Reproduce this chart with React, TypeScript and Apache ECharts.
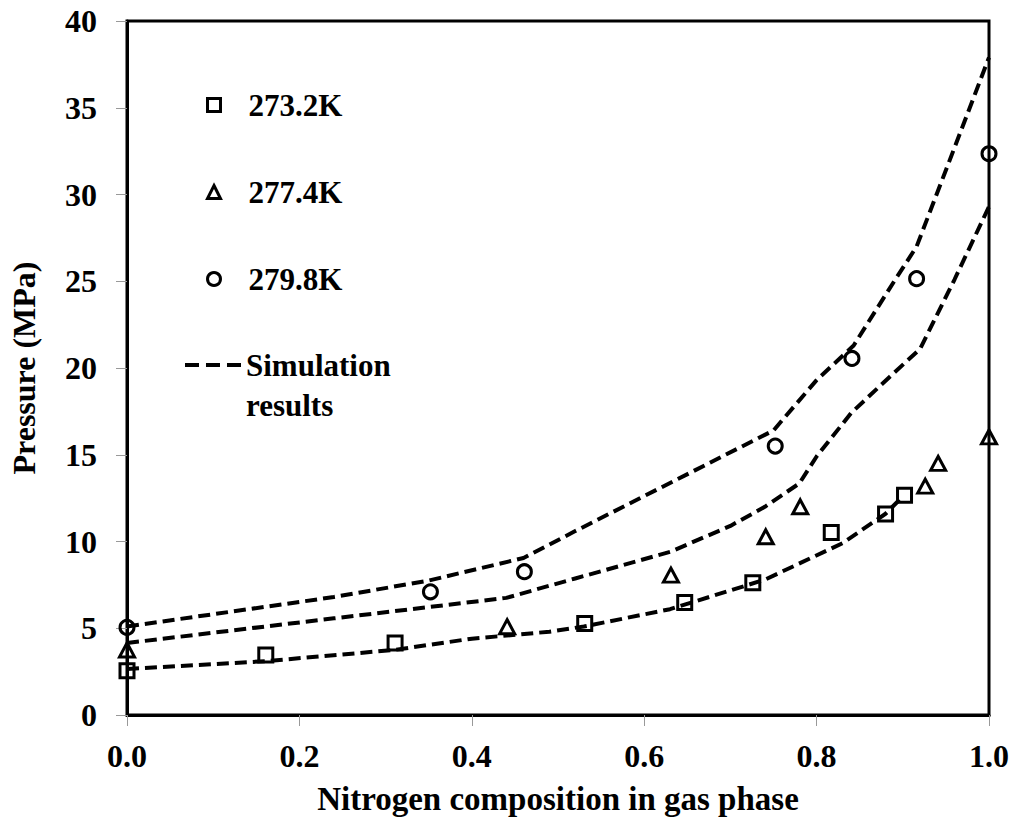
import React, { useEffect, useRef } from "react";
import * as echarts from "echarts";

// Experimental data (nitrogen mole fraction in gas phase, pressure MPa)
const n2_273 = [0, 0.161, 0.311, 0.531, 0.647, 0.726, 0.817, 0.88, 0.902];
const p_273 = [2.55, 3.46, 4.15, 5.28, 6.49, 7.62, 10.52, 11.58, 12.67];

const n2_277 = [0, 0.441, 0.631, 0.741, 0.781, 0.926, 0.941, 1.0];
const p_277 = [3.75, 5.09, 8.06, 10.27, 12.0, 13.19, 14.5, 16.03];

const n2_280 = [0, 0.352, 0.461, 0.752, 0.841, 0.916, 1.0];
const p_280 = [5.05, 7.1, 8.26, 15.5, 20.55, 25.15, 32.35];

// Simulation curves
const simX_273 = [0, 0.16, 0.31, 0.4, 0.49, 0.53, 0.63, 0.74, 0.83, 0.88, 0.9];
const simY_273 = [2.65, 3.1, 3.75, 4.4, 4.8, 5.1, 6.1, 7.8, 9.9, 11.6, 12.6];

const simX_277 = [0, 0.24, 0.44, 0.52, 0.63, 0.7, 0.74, 0.78, 0.8, 0.84, 0.885, 0.92, 0.96, 1.0];
const simY_277 = [4.15, 5.57, 6.75, 7.87, 9.4, 10.9, 12.0, 13.35, 14.9, 17.4, 19.5, 21.1, 25.1, 29.3];

const simX_280 = [0, 0.24, 0.35, 0.46, 0.52, 0.75, 0.8, 0.843, 0.89, 0.916, 0.96, 1.0];
const simY_280 = [5.1, 6.8, 7.75, 9.05, 10.6, 16.4, 19.3, 21.3, 25.0, 27.0, 32.7, 37.9];

const seriesNames = ["273.2K", "277.4K", "279.8K"];
const simName = "Simulation results";

const zip = (xs: number[], ys: number[]) => xs.map((x, i) => [x, ys[i]]);

const FONT = "Liberation Serif, Times New Roman, serif";

export default function App() {
  const ref = useRef<HTMLDivElement>(null);
  useEffect(() => {
    if (!ref.current) return;
    const chart = echarts.init(ref.current, undefined, { renderer: "svg" });
    const textStyle = { fontSize: 32, fontWeight: "bold" as const, fontFamily: FONT, color: "#000" };
    const markerStyle = { color: "transparent", borderColor: "#000", borderWidth: 3, opacity: 1 };
    const dash = { color: "#000", width: 4, type: [12, 6] as number[] };
    const simLine = (xs: number[], ys: number[]) => ({
      name: simName,
      type: "line",
      data: zip(xs, ys),
      symbol: "none",
      showSymbol: false,
      itemStyle: { color: "#000" },
      lineStyle: dash,
      clip: false,
      z: 2,
    });
    const legendFont = { ...textStyle, fontSize: 31 };
    const markerLegend = (name: string, icon: string, top: number) => ({
      orient: "vertical",
      padding: 0,
      selectedMode: false,
      left: 206,
      top,
      itemWidth: 13,
      itemHeight: 13,
      itemStyle: { color: "transparent", borderColor: "#000", borderWidth: 3 },
      formatter: (n: string) => `{t|${n}}`,
      textStyle: { ...legendFont, lineHeight: 36, rich: { t: { ...legendFont, lineHeight: 36, padding: [0, 0, 0, 23] } } },
      data: [{ name, icon }],
    });
    chart.setOption({
      animation: false,
      backgroundColor: "#fff",
      grid: {
        left: 127,
        right: 24,
        top: 21,
        bottom: 102,
        outerBoundsMode: "none",
        containLabel: false,
        show: true,
        borderColor: "#000",
        borderWidth: 3,
      },
      legend: [
        markerLegend(seriesNames[0], "rect", 87),
        markerLegend(seriesNames[1], "triangle", 174),
        markerLegend(seriesNames[2], "circle", 261),
        {
          orient: "vertical",
          padding: 0,
          selectedMode: false,
          left: 185,
          top: 345,
          itemWidth: 56,
          itemHeight: 44,
          symbolKeepAspect: true,
          itemStyle: { color: "#000", borderWidth: 0 },
          data: [
            {
              name: simName,
              icon: "path://M0,0h14v4h-14z M21,0h14v4h-14z M42,0h14v4h-14z M0,44h0.01v0.01h-0.01z",
            },
          ],
          formatter: () => "Simulation\nresults",
          textStyle: { ...legendFont, lineHeight: 40 },
        },
      ],
      xAxis: {
        type: "value",
        min: 0,
        max: 1,
        interval: 0.2,
        name: "Nitrogen composition in gas phase",
        nameLocation: "middle",
        nameGap: 67,
        nameTextStyle: { ...textStyle, fontSize: 33, lineHeight: 33 },
        axisLine: { lineStyle: { color: "#000", width: 3 } },
        axisTick: { show: true, inside: false, length: 11, lineStyle: { color: "#999", width: 1 } },
        axisLabel: { ...textStyle, lineHeight: 32, margin: 25, formatter: (v: number) => v.toFixed(1) },
        splitLine: { show: false },
      },
      yAxis: {
        type: "value",
        min: 0,
        max: 40,
        interval: 5,
        name: "Pressure (MPa)",
        nameLocation: "middle",
        nameGap: 87,
        nameTextStyle: { ...textStyle, fontSize: 32, lineHeight: 32 },
        axisLine: { lineStyle: { color: "#000", width: 3 } },
        axisTick: { show: true, inside: false, length: 11, lineStyle: { color: "#999", width: 1 } },
        axisLabel: { ...textStyle, margin: 30 },
        splitLine: { show: false },
      },
      series: [
        {
          name: seriesNames[0],
          type: "scatter",
          symbol: "rect",
          symbolSize: 14,
          data: zip(n2_273, p_273),
          itemStyle: markerStyle,
          clip: false,
          z: 3,
        },
        {
          name: seriesNames[1],
          type: "scatter",
          symbol: "triangle",
          symbolSize: [15, 14],
          data: zip(n2_277, p_277),
          itemStyle: markerStyle,
          clip: false,
          z: 3,
        },
        {
          name: seriesNames[2],
          type: "scatter",
          symbol: "circle",
          symbolSize: 14,
          data: zip(n2_280, p_280),
          itemStyle: markerStyle,
          clip: false,
          z: 3,
        },
        simLine(simX_273, simY_273),
        simLine(simX_277, simY_277),
        simLine(simX_280, simY_280),
      ],
    });
    return () => chart.dispose();
  }, []);
  return (
    <div
      ref={ref}
      style={{ position: "absolute", left: 0, top: 0, width: 1013, height: 817, background: "#fff" }}
    />
  );
}
